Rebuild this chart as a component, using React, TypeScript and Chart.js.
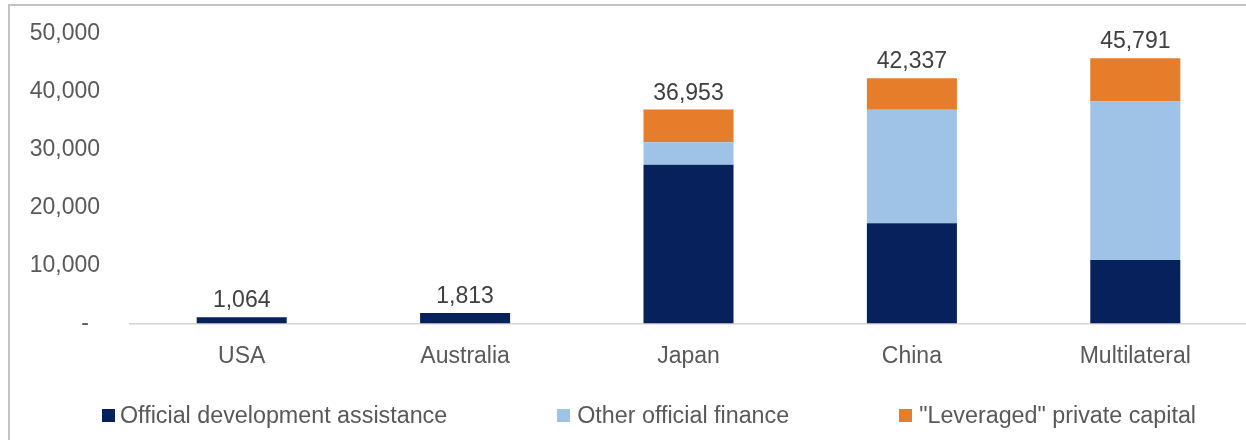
import React, { useEffect, useRef } from "react";
import { Chart, registerables } from "chart.js";

Chart.register(...registerables);

const categories = ["USA", "Australia", "Japan", "China", "Multilateral"];
const odaValues = [1064, 1813, 27400, 17300, 10950];
const oofValues = [0, 0, 3900, 19600, 27400];
const privateValues = [0, 0, 5653, 5437, 7441];
const totals = [1064, 1813, 36953, 42337, 45791];

const seriesNames = [
  "Official development assistance",
  "Other official finance",
  '"Leveraged" private capital',
];
const seriesColors = ["#07215D", "#9FC3E7", "#E67D2A"];

const yMax = 50000;
const yStep = 10000;

const FONT = "'Liberation Sans', Arial, sans-serif";

const totalLabels = {
  id: "totalLabels",
  afterDatasetsDraw(chart: any) {
    const { ctx, scales } = chart;
    ctx.save();
    ctx.font = `23px ${FONT}`;
    ctx.fillStyle = "#404040";
    ctx.textAlign = "center";
    ctx.textBaseline = "alphabetic";
    totals.forEach((t, i) => {
      const x = scales.x.getPixelForValue(i);
      const y = scales.y.getPixelForValue(t);
      ctx.fillText(t.toLocaleString("en-US"), x, y - 10);
    });
    ctx.restore();
  },
};

export default function App() {
  const ref = useRef<HTMLCanvasElement | null>(null);

  useEffect(() => {
    if (!ref.current) return;
    const chart = new Chart(ref.current, {
      type: "bar",
      data: {
        labels: categories,
        datasets: [
          { label: seriesNames[0], data: odaValues, backgroundColor: seriesColors[0] },
          { label: seriesNames[1], data: oofValues, backgroundColor: seriesColors[1] },
          { label: seriesNames[2], data: privateValues, backgroundColor: seriesColors[2] },
        ],
      },
      options: {
        responsive: false,
        animation: false,
        layout: { padding: { left: 0, right: 13, top: 28, bottom: 51 } },
        datasets: { bar: { categoryPercentage: 1, barPercentage: 0.403 } },
        plugins: { legend: { display: false }, tooltip: { enabled: false } },
        scales: {
          x: {
            stacked: true,
            grid: { display: false, drawTicks: false },
            border: { display: true, color: "#d6d6d6", width: 1.5 },
            ticks: { color: "#595959", font: { family: FONT, size: 23 }, padding: 19 },
          },
          y: {
            stacked: true,
            min: 0,
            max: yMax,
            grid: { display: false, drawTicks: false },
            border: { display: false },
            afterFit: (scale: any) => {
              scale.width = 120;
              scale.paddingTop = 0;
              scale.paddingBottom = 0;
            },
            ticks: {
              stepSize: yStep,
              color: "#595959",
              font: { family: FONT, size: 23 },
              padding: 30,
              callback: (v: any) => (Number(v) === 0 ? "- \u2009" : Number(v).toLocaleString("en-US")),
            },
          },
        },
      },
      plugins: [totalLabels],
    });
    return () => chart.destroy();
  }, []);

  return (
    <div
      style={{
        position: "fixed",
        left: 0,
        top: 0,
        width: 1246,
        height: 440,
        overflow: "hidden",
        background: "#fff",
      }}
    >
      <div
        style={{
          position: "absolute",
          left: 8,
          top: 4,
          width: 1260,
          height: 460,
          borderTop: "2px solid #c4c4c4",
          borderLeft: "2px solid #c4c4c4",
        }}
      >
        <canvas ref={ref} width={1250} height={434} style={{ width: 1250, height: 434, display: "block" }} />
        <div
          style={{
            position: "absolute",
            left: 92,
            top: 397,
            height: 24,
            display: "flex",
            alignItems: "center",
            fontFamily: FONT,
            fontSize: 23.3,
            color: "#595959",
            whiteSpace: "nowrap",
          }}
        >
          {seriesNames.map((name, i) => (
            <div
              key={name}
              style={{ display: "flex", alignItems: "center", marginRight: i < seriesNames.length - 1 ? 110 : 0 }}
            >
              <span
                style={{
                  width: 13,
                  height: 13,
                  background: seriesColors[i],
                  marginRight: i === 0 ? 5 : 7,
                  display: "inline-block",
                }}
              />
              <span style={{ lineHeight: "24px" }}>{name}</span>
            </div>
          ))}
        </div>
      </div>
    </div>
  );
}
